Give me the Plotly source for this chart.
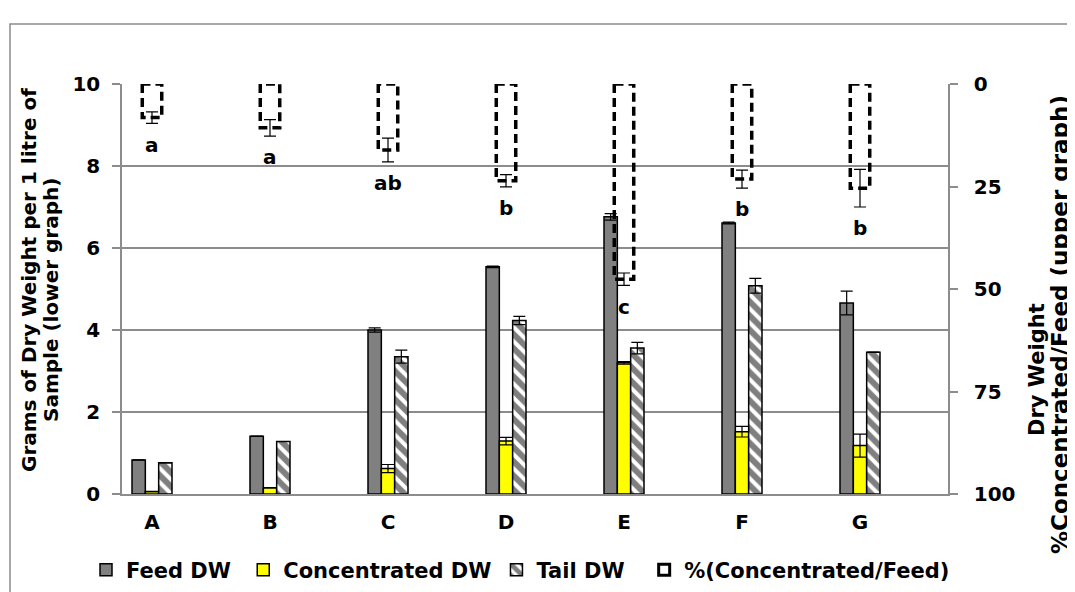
import plotly.graph_objects as go
import numpy as np

# ---------------- data ----------------
categories = ["A", "B", "C", "D", "E", "F", "G"]
feed_dw = [0.83, 1.41, 4.00, 5.54, 6.76, 6.61, 4.66]
feed_err = [0.0, 0.0, 0.05, 0.02, 0.08, 0.02, 0.29]
conc_dw = [0.06, 0.15, 0.62, 1.29, 3.20, 1.52, 1.18]
conc_err = [0.0, 0.0, 0.10, 0.09, 0.03, 0.13, 0.28]
tail_dw = [0.76, 1.28, 3.35, 4.23, 3.56, 5.08, 3.46]
tail_err = [0.0, 0.0, 0.16, 0.10, 0.14, 0.18, 0.0]
pct_conc_feed = [8.2, 10.7, 16.1, 23.6, 47.6, 23.2, 25.4]
pct_err = [1.4, 2.0, 2.9, 1.5, 1.5, 2.2, 4.6]
sig_letters = ["a", "a", "ab", "b", "c", "b", "b"]
legend_names = ["Feed DW", "Concentrated DW", "Tail DW", "%(Concentrated/Feed)"]

# ---------------- geometry / style ----------------
SW, SH = 1075, 592            # screen size
OFF = 8                       # page body margin
W, H = SW - OFF, SH - OFF     # figure size
L, R, T, B = 122, 948, 84, 494          # plot area in screen pixels
FONT = "DejaVu Sans"
GRID = "#8c8c8c"
x = np.arange(len(categories))
bw = 0.113        # width of the lower bars (category units)
pw = 0.165        # width of the dashed upper bars
NB = "\u00a0"


def px(xp, yp):
    """screen pixel -> paper coordinates"""
    return (xp - L) / (R - L), (B - yp) / (B - T)


fig = go.Figure()

err_style = dict(type="data", color="black", thickness=1.2, width=6)

fig.add_trace(go.Bar(
    x=x, y=feed_dw, name=legend_names[0] + NB, width=bw, offset=-1.5 * bw,
    marker=dict(color="#808080", line=dict(color="black", width=1.5)),
    error_y=dict(array=feed_err, visible=True, **err_style),
))
fig.add_trace(go.Bar(
    x=x, y=conc_dw, name=legend_names[1], width=bw, offset=-0.5 * bw,
    marker=dict(color="#ffff00", line=dict(color="black", width=1.5)),
    error_y=dict(array=conc_err, visible=True, **err_style),
))
fig.add_trace(go.Bar(
    x=x, y=tail_dw, name=legend_names[2] + NB * 2, width=bw, offset=0.5 * bw,
    marker=dict(color="white", line=dict(color="black", width=1.5),
                pattern=dict(shape="\\", fgcolor="black", bgcolor="white",
                             size=10, solidity=0.6)),
    error_y=dict(array=tail_err, visible=True, **err_style),
))

# dashed outline bars for the percentage (upper graph, reversed secondary axis)
ox, oy = [], []
for xi, v in zip(x, pct_conc_feed):
    ox += [xi - pw / 2, xi - pw / 2, xi + pw / 2, xi + pw / 2, xi - pw / 2, None]
    oy += [0, v, v, 0, 0, None]
fig.add_trace(go.Scatter(
    x=ox, y=oy, yaxis="y2", mode="lines", showlegend=False,
    line=dict(color="black", width=3.5, dash="9px,5px"),
    hoverinfo="skip",
))
fig.add_trace(go.Scatter(
    x=x, y=pct_conc_feed, yaxis="y2", mode="markers", showlegend=False,
    marker=dict(size=1, color="rgba(0,0,0,0)"),
    error_y=dict(array=pct_err, visible=True, **err_style),
))
# legend entry for the dashed bars
fig.add_trace(go.Scatter(
    x=[None], y=[None], yaxis="y2", mode="markers", name=legend_names[3],
    marker=dict(symbol="square-open", size=11, color="black",
                line=dict(color="black", width=3)),
))

annotations = []
for xi, v, e, t in zip(x, pct_conc_feed, pct_err, sig_letters):
    annotations.append(dict(
        x=xi, y=v + e + 5.2, xref="x", yref="y2", text=t, showarrow=False,
        font=dict(family=FONT, size=20, color="black", weight="bold"),
        xanchor="center", yanchor="middle",
    ))

# axis titles as annotations (each line placed separately)
for txt, (cx, cy), fs in [
    ("Grams of Dry Weight per 1 litre of", (29, 280), 20),
    ("Sample (lower graph)", (51, 300), 20),
    ("Dry Weight", (1037, 370), 21),
    ("%Concentrated/Feed (upper graph)", (1060, 325), 23),
]:
    xp, yp = px(cx, cy)
    annotations.append(dict(
        x=xp, y=yp, xref="paper", yref="paper", text=txt, showarrow=False,
        textangle=-90, xanchor="center", yanchor="middle",
        font=dict(family=FONT, size=fs, color="black", weight="bold"),
    ))

# outer chart-area border
x0, y0 = px(10, 24)
x1, y1 = px(1100, 620)
shapes = [dict(type="rect", xref="paper", yref="paper", x0=x0, y0=y1, x1=x1, y1=y0,
               line=dict(color=GRID, width=1.5), fillcolor="rgba(0,0,0,0)", layer="below")]

lx, ly = px(86, 570)

fig.update_layout(
    width=W, height=H,
    margin=dict(l=L - OFF, r=W - (R - OFF), t=T - OFF, b=H - (B - OFF), pad=0,
                autoexpand=False),
    paper_bgcolor="white", plot_bgcolor="white",
    barmode="overlay",
    font=dict(family=FONT, color="black"),
    showlegend=True,
    legend=dict(orientation="h", x=lx, y=ly, xanchor="left", yanchor="middle",
                font=dict(family=FONT, size=21, color="black", weight="bold"),
                bgcolor="rgba(0,0,0,0)", traceorder="normal"),
    xaxis=dict(
        range=[(L - 152) / 118, (R - 152) / 118],
        tickvals=x, ticktext=categories, ticks="",
        showline=True, linecolor=GRID, linewidth=1.5, showgrid=False, zeroline=False,
        tickfont=dict(family=FONT, size=20, color="black", weight="bold"),
        ticklabelstandoff=9, automargin=False,
    ),
    yaxis=dict(
        range=[0, 10], tickvals=[0, 2, 4, 6, 8, 10],
        showline=True, linecolor=GRID, linewidth=1.5,
        showgrid=True, gridcolor=GRID, gridwidth=1.5, zeroline=False,
        ticks="outside", ticklen=8, tickcolor=GRID, tickwidth=1.5,
        tickfont=dict(family=FONT, size=20, color="black", weight="bold"),
        ticklabelstandoff=8, automargin=False,
    ),
    yaxis2=dict(
        range=[100, 0], tickvals=[0, 25, 50, 75, 100], overlaying="y", side="right",
        showline=True, linecolor=GRID, linewidth=1.5, showgrid=False, zeroline=False,
        ticks="outside", ticklen=8, tickcolor=GRID, tickwidth=1.5,
        tickfont=dict(family=FONT, size=20, color="black", weight="bold"),
        ticklabelstandoff=12, automargin=False,
    ),
    annotations=annotations,
    shapes=shapes,
)

fig.write_html("out.html")
